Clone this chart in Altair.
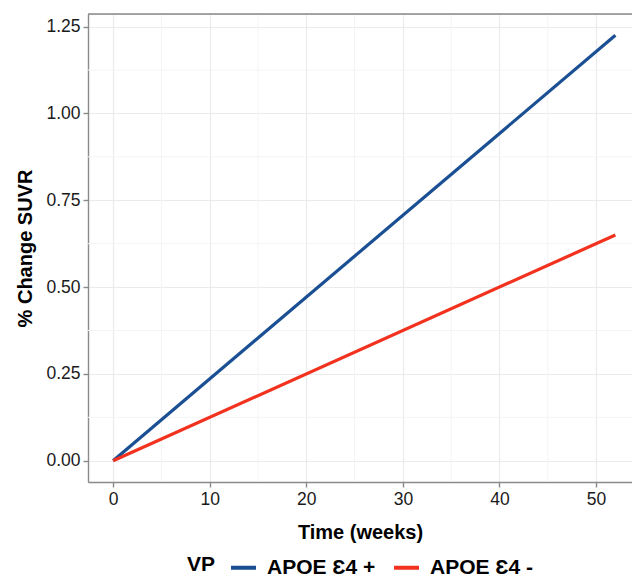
import altair as alt
import pandas as pd

# ---- data ----
weeks = [0, 52]
apoe_pos = [0.0, 1.225]
apoe_neg = [0.0, 0.65]
series_names = ["APOE Ɛ4 +", "APOE Ɛ4 -"]
series_colors = ["#1a4f93", "#f2321e"]

x_major = [0, 10, 20, 30, 40, 50]
x_minor = [5, 15, 25, 35, 45]
y_major = [0.0, 0.25, 0.5, 0.75, 1.0, 1.25]
y_minor = [0.125, 0.375, 0.625, 0.875, 1.125]

rows = []
for w, v in zip(weeks, apoe_pos):
    rows.append({"VP": series_names[0], "week": w, "suvr": v})
for w, v in zip(weeks, apoe_neg):
    rows.append({"VP": series_names[1], "week": w, "suvr": v})
df = pd.DataFrame(rows)

FONT = "Liberation Sans"

x_scale = alt.Scale(domain=[-2.6, 53.72], nice=False, zero=False)
y_scale = alt.Scale(domain=[-0.06125, 1.28625], nice=False, zero=False)

x_axis = alt.Axis(
    values=x_major, title="Time (weeks)", grid=True, gridColor="#ebebeb", gridWidth=1.2,
    domainColor="#8a8a8a", domainWidth=1.4, tickColor="#8a8a8a", tickWidth=1.4, tickSize=5,
    labelFont=FONT, labelFontSize=17.5, labelColor="#1a1a1a", labelPadding=3,
    titleFont=FONT, titleFontSize=20, titleFontWeight="bold", titleColor="#000000",
    titlePadding=15, labelFlush=False,
)
y_axis = alt.Axis(
    values=y_major, title="% Change SUVR", format=".2f", grid=True, gridColor="#ebebeb",
    gridWidth=1.2, domainColor="#8a8a8a", domainWidth=1.4, tickColor="#8a8a8a", tickWidth=1.4,
    tickSize=5, labelFont=FONT, labelFontSize=17.5, labelColor="#1a1a1a", labelPadding=3,
    titleFont=FONT, titleFontSize=20, titleFontWeight="bold", titleColor="#000000",
    titlePadding=10, labelFlush=False,
)

minor_x_df = pd.DataFrame({"v": x_minor})
minor_y_df = pd.DataFrame({"v": y_minor})

minor_x = alt.Chart(minor_x_df).mark_rule(color="#f4f4f4", strokeWidth=1).encode(
    x=alt.X("v:Q", scale=x_scale, axis=x_axis)
)
minor_y = alt.Chart(minor_y_df).mark_rule(color="#f4f4f4", strokeWidth=1).encode(
    y=alt.Y("v:Q", scale=y_scale, axis=y_axis)
)

lines = alt.Chart(df).mark_line(strokeWidth=3.2).encode(
    x=alt.X("week:Q", scale=x_scale, axis=x_axis),
    y=alt.Y("suvr:Q", scale=y_scale, axis=y_axis),
    color=alt.Color(
        "VP:N",
        scale=alt.Scale(domain=series_names, range=series_colors),
        legend=alt.Legend(
            title="VP", orient="none", legendX=99, legendY=539, direction="horizontal",
            titleOrient="left", titleFont=FONT, titleFontSize=21, titleFontWeight="bold",
            titleColor="#000000", titlePadding=13, titleBaseline="middle",
            labelFont=FONT, labelFontSize=21, labelFontWeight="bold", labelColor="#000000",
            labelOffset=9, columnPadding=10, symbolType="stroke", symbolSize=625,
            symbolStrokeWidth=4, labelBaseline="middle",
        ),
    ),
)

top_border = alt.Chart(pd.DataFrame({"k": [0]})).mark_rule(
    color="#8a8a8a", strokeWidth=1.4
).encode(y=alt.value(0))

chart = alt.layer(minor_x, minor_y, lines, top_border).properties(
    width=544, height=468,
    autosize=alt.AutoSizeParams(type="none"),
    padding={"left": 80, "top": 6, "right": 0, "bottom": 97},
).configure_view(stroke=None).configure(background="white")

chart.save("out.html", embed_options={"renderer": "svg", "actions": False})
